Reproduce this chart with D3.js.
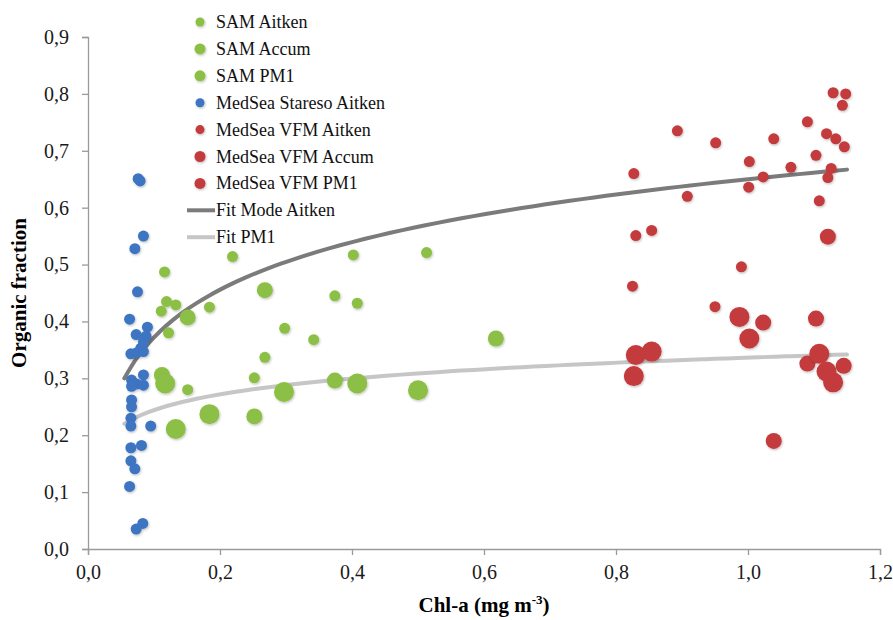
<!DOCTYPE html>
<html>
<head>
<meta charset="utf-8">
<script src="https://cdn.jsdelivr.net/npm/d3@7"></script>
<style>
  body { margin: 0; background: #fff; }
</style>
</head>
<body>
<div id="chart"></div>
<script>
// Organic fraction vs Chl-a scatter with log fits

// SAM series
const samAitken = [
  [0.219, 0.514], [0.402, 0.517], [0.513, 0.521], [0.116, 0.487], [0.119, 0.435],
  [0.133, 0.429], [0.111, 0.418], [0.184, 0.425], [0.122, 0.380], [0.374, 0.445],
  [0.408, 0.432], [0.298, 0.388], [0.342, 0.368], [0.268, 0.337], [0.252, 0.301],
  [0.151, 0.280]
];
const samAccum = [
  [0.268, 0.455], [0.151, 0.407], [0.618, 0.370], [0.374, 0.296], [0.252, 0.233], [0.112, 0.306]
];
const samPM1 = [
  [0.117, 0.291], [0.297, 0.276], [0.408, 0.291], [0.500, 0.279], [0.184, 0.237], [0.133, 0.211]
];

// MedSea Stareso
const staresoAitken = [
  [0.079, 0.647], [0.076, 0.651], [0.084, 0.550], [0.071, 0.528], [0.075, 0.452],
  [0.063, 0.404], [0.090, 0.390], [0.073, 0.377], [0.088, 0.374], [0.084, 0.364],
  [0.080, 0.353], [0.065, 0.343], [0.074, 0.345], [0.084, 0.347], [0.084, 0.306],
  [0.066, 0.297], [0.074, 0.290], [0.084, 0.288], [0.066, 0.286], [0.066, 0.262],
  [0.066, 0.250], [0.065, 0.230], [0.065, 0.216], [0.095, 0.216], [0.065, 0.178],
  [0.081, 0.182], [0.065, 0.155], [0.071, 0.141], [0.063, 0.110], [0.083, 0.045],
  [0.073, 0.035]
];

// MedSea VFM
const vfmAitken = [
  [1.129, 0.802], [1.148, 0.800], [1.143, 0.780], [1.090, 0.751], [0.893, 0.735],
  [0.951, 0.714], [1.039, 0.721], [1.119, 0.730], [1.133, 0.721], [1.146, 0.707],
  [1.103, 0.692], [1.002, 0.681], [1.065, 0.671], [1.126, 0.669], [0.827, 0.660],
  [1.023, 0.654], [1.121, 0.653], [1.001, 0.636], [0.908, 0.620], [1.108, 0.612],
  [0.854, 0.560], [0.830, 0.551], [0.990, 0.496], [0.825, 0.462], [0.950, 0.426]
];
const vfmAccum = [
  [1.121, 0.549], [1.023, 0.398], [1.103, 0.405], [1.090, 0.326], [1.145, 0.322], [1.039, 0.190]
];
const vfmPM1 = [
  [0.987, 0.408], [1.002, 0.370], [0.830, 0.341], [0.854, 0.347], [0.827, 0.304],
  [1.108, 0.343], [1.119, 0.312], [1.129, 0.293]
];

// logarithmic trendlines y = a + b*ln(x), drawn over [x0, x1]
const fitAitken = { a: 0.650, b: 0.1207, x0: 0.055, x1: 1.15 };
const fitPM1 = { a: 0.3364, b: 0.0401, x0: 0.055, x1: 1.15 };

const xTicks = [0, 0.2, 0.4, 0.6, 0.8, 1.0, 1.2];
const yTicks = [0, 0.1, 0.2, 0.3, 0.4, 0.5, 0.6, 0.7, 0.8, 0.9];

const green = "#8cbf44", blue = "#3c74c2", red = "#c43b3d";
const FONT = "'Liberation Serif', 'Times New Roman', serif";

const series = [
  { name: "SAM Aitken", data: samAitken, color: green, r: 5.5, lr: 4.5 },
  { name: "SAM Accum", data: samAccum, color: green, r: 8, lr: 5.5 },
  { name: "SAM PM1", data: samPM1, color: green, r: 10, lr: 5.5 },
  { name: "MedSea Stareso Aitken", data: staresoAitken, color: blue, r: 5.5, lr: 4.5 },
  { name: "MedSea VFM Aitken", data: vfmAitken, color: red, r: 5.5, lr: 4.5 },
  { name: "MedSea VFM Accum", data: vfmAccum, color: red, r: 8, lr: 5.5 },
  { name: "MedSea VFM PM1", data: vfmPM1, color: red, r: 10, lr: 5.5 }
];
const fits = [
  { name: "Fit Mode Aitken", fit: fitAitken, color: "#7b7b7b" },
  { name: "Fit PM1", fit: fitPM1, color: "#c6c6c6" }
];

const width = 893, height = 620;
const margin = { top: 37, right: 13, bottom: 71, left: 88 };

const svg = d3.select("#chart").append("svg")
  .attr("width", width)
  .attr("height", height);

const defs = svg.append("defs");
const shadow = defs.append("filter").attr("id", "shadow")
  .attr("x", "-50%").attr("y", "-50%").attr("width", "200%").attr("height", "200%");
shadow.append("feDropShadow")
  .attr("dx", 0.8).attr("dy", 1.2).attr("stdDeviation", 1)
  .attr("flood-color", "#000").attr("flood-opacity", 0.25);

const x = d3.scaleLinear().domain([0, 1.2]).range([margin.left, width - margin.right]);
const y = d3.scaleLinear().domain([0, 0.9]).range([height - margin.bottom, margin.top]);

const comma = d => d3.format(".1f")(d).replace(".", ",");

// axes
const xAxis = svg.append("g")
  .attr("transform", `translate(0,${height - margin.bottom})`)
  .call(d3.axisBottom(x).tickValues(xTicks).tickFormat(comma).tickSize(6).tickPadding(10));
const yAxis = svg.append("g")
  .attr("transform", `translate(${margin.left},0)`)
  .call(d3.axisLeft(y).tickValues(yTicks).tickFormat(comma).tickSize(6).tickPadding(13));

[xAxis, yAxis].forEach(g => {
  g.select(".domain").attr("stroke", "#9a9a9a").attr("stroke-width", 1.3);
  g.selectAll(".tick line").attr("stroke", "#9a9a9a").attr("stroke-width", 1.3);
  g.selectAll(".tick text")
    .style("font-family", FONT)
    .style("font-size", "20px")
    .attr("fill", "#1a1a1a");
});

// axis titles
svg.append("text")
  .attr("transform", `translate(26,${(margin.top + height - margin.bottom) / 2}) rotate(-90)`)
  .attr("text-anchor", "middle")
  .style("font-family", FONT)
  .style("font-size", "21px")
  .style("font-weight", "bold")
  .text("Organic fraction");

const xTitle = svg.append("text")
  .attr("x", (margin.left + width - margin.right) / 2)
  .attr("y", 612)
  .attr("text-anchor", "middle")
  .style("font-family", FONT)
  .style("font-size", "21px")
  .style("font-weight", "bold");
xTitle.append("tspan").text("Chl-a (mg m");
xTitle.append("tspan").attr("dy", -8).style("font-size", "13px").text("-3");
xTitle.append("tspan").attr("dy", 8).text(")");

// fit curves
const line = d3.line().x(d => x(d[0])).y(d => y(d[1])).curve(d3.curveMonotoneX);
fits.forEach(f => {
  const xs = d3.range(0, 61).map(i => f.fit.x0 + (f.fit.x1 - f.fit.x0) * i / 60);
  const pts = xs.map(v => [v, f.fit.a + f.fit.b * Math.log(v)]);
  svg.append("path")
    .attr("d", line(pts))
    .attr("fill", "none")
    .attr("stroke", f.color)
    .attr("stroke-width", 4)
    .attr("stroke-linecap", "round");
});

// points
series.forEach(s => {
  svg.append("g")
    .attr("filter", "url(#shadow)")
    .selectAll("circle")
    .data(s.data)
    .join("circle")
    .attr("cx", d => x(d[0]))
    .attr("cy", d => y(d[1]))
    .attr("r", s.r)
    .attr("fill", s.color);
});

// legend
const legend = svg.append("g").attr("transform", "translate(200,22)");
const rowH = 26.9;
series.forEach((s, i) => {
  const row = legend.append("g").attr("transform", `translate(0,${i * rowH})`);
  row.append("circle").attr("r", s.lr).attr("fill", s.color).attr("filter", "url(#shadow)");
  row.append("text").attr("x", 16).attr("y", 6)
    .style("font-family", FONT).style("font-size", "18px").attr("fill", "#111")
    .text(s.name);
});
fits.forEach((f, j) => {
  const i = series.length + j;
  const row = legend.append("g").attr("transform", `translate(0,${i * rowH})`);
  row.append("line").attr("x1", -13).attr("x2", 15)
    .attr("stroke", f.color).attr("stroke-width", 4);
  row.append("text").attr("x", 16).attr("y", 6)
    .style("font-family", FONT).style("font-size", "18px").attr("fill", "#111")
    .text(f.name);
});
</script>
</body>
</html>
